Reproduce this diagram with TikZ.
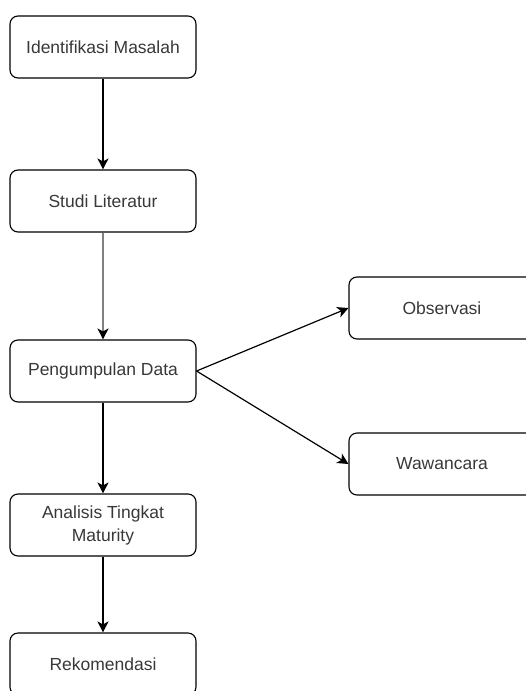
\documentclass[tikz,border=0pt]{standalone}
\usepackage{fontspec}
\setmainfont{Liberation Sans}
\usetikzlibrary{positioning,arrows.meta}
\begin{document}
\begin{tikzpicture}[
    x=1pt, y=-1pt,
    proses/.style={draw, rounded corners=8pt, line width=1.1pt, minimum width=186pt, minimum height=62pt,
        align=center, text=black!78, font=\fontsize{17.5}{23}\selectfont},
    -->/.style={-{Stealth[length=11pt,width=11pt,inset=3pt]}, line width=1.2pt},
    ]
    \path[use as bounding box] (0,0) rectangle (526,691);
    \clip (0,0) rectangle (526,691);
    \node[proses] (identifikasi) at (103,47) {Identifikasi Masalah};
    \node[proses] (studi) at (103,201) {Studi Literatur};
    \node[proses] (pengumpulan) at (103,371) {Pengumpulan Data};
    \node[proses] (observasi) at (442,308) {Observasi};
    \node[proses] (wawancara) at (442,464) {Wawancara};
    \node[proses] (analisis) at (103,525) {Analisis Tingkat\\Maturity};
    \node[proses] (rekomendasi) at (103,664) {Rekomendasi};
    \draw [-->] (identifikasi) -- (studi);
    \draw [-->, draw=black!50, -{Stealth[length=11pt,width=11pt,inset=3pt,black]}] (studi) -- (pengumpulan);
    \draw [-->] (pengumpulan.east) -- (observasi.west);
    \draw [-->] (pengumpulan.east) -- (wawancara.west);
    \draw [-->] (pengumpulan) -- (analisis);
    \draw [-->] (analisis) -- (rekomendasi);
\end{tikzpicture}
\end{document}
